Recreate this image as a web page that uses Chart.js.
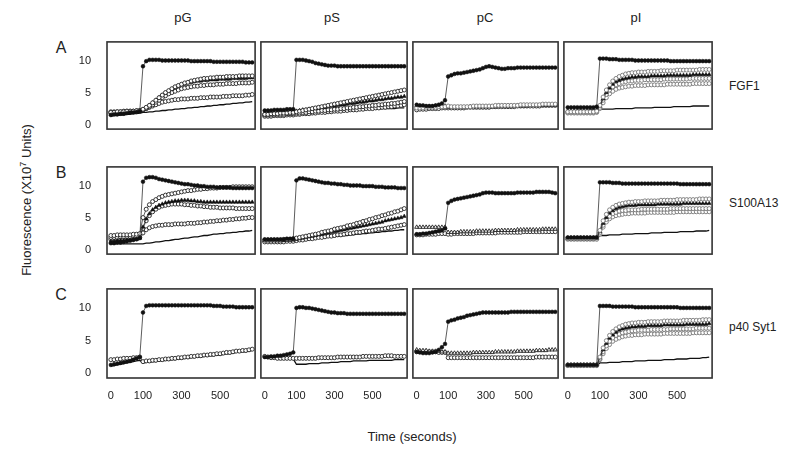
<!DOCTYPE html>
<html>
<head>
<meta charset="utf-8">
<script src="https://cdn.jsdelivr.net/npm/chart.js@4.4.0/dist/chart.umd.min.js"></script>
<style>
  body { margin: 0; background: #fff; }
  #fig { position: relative; width: 800px; height: 451px; overflow: hidden;
         font-family: 'Liberation Sans', Arial, sans-serif; color: #222; }
  #fig canvas { position: absolute; }
  .lbl { position: absolute; white-space: nowrap; transform: translate(-50%, -50%); }
  .side { position: absolute; white-space: nowrap; transform: translate(0, -50%); font-size: 12px; }
</style>
</head>
<body>
<div id="fig">
  <div class="lbl" style="left:183px;top:17px;font-size:13px">pG</div>
  <div class="lbl" style="left:332px;top:17px;font-size:13px">pS</div>
  <div class="lbl" style="left:485px;top:17px;font-size:13px">pC</div>
  <div class="lbl" style="left:636px;top:17px;font-size:13px">pI</div>

  <div class="lbl" style="left:61px;top:48px;font-size:16px">A</div>
  <div class="lbl" style="left:61px;top:173px;font-size:16px">B</div>
  <div class="lbl" style="left:61px;top:295px;font-size:16px">C</div>

  <div class="side" style="left:729px;top:86px">FGF1</div>
  <div class="side" style="left:729px;top:203px">S100A13</div>
  <div class="side" style="left:729px;top:327px">p40 Syt1</div>

  <div class="lbl" style="left:26px;top:200px;font-size:13px;transform:translate(-50%,-50%) rotate(-90deg)">Fluorescence (X10<sup style="font-size:9px">7</sup> Units)</div>
  <div class="lbl" style="left:412px;top:436px;font-size:13px">Time (seconds)</div>
</div>
<script>
// reading number of each measurement, and where the time labels sit on it
const readIdx = [0,1,2,3,4,5,6,7,8,9,10,11,12,13,14,15,16,17,18,19,20,21,22,
                 23,24,25,26,27,28,29,30,31,32,33,34,35,36,37,38,39,40,41,42,43,44];
const xTickAt = [0, 10, 22, 34];
const xTickText = ['0', '100', '300', '500'];
const yTickAt = [0, 5, 10];
const yTickText = ['0', '5', '10'];

// ---- row A (FGF1) ----
const aG_fill = [1.5,1.6,1.6,1.7,1.7,1.8,1.9,1.9,2.0,2.1,
  9.1,9.9,10.1,10.1,10.1,10.1,10.0,10.0,10.0,10.0,
  10.0,10.0,10.0,10.0,10.0,9.9,9.9,9.9,9.9,9.9,
  9.9,9.9,9.8,9.8,9.8,9.8,9.8,9.8,9.8,9.8,
  9.8,9.8,9.7,9.7,9.7];
const aG_o1 = [1.9,1.9,2.0,2.0,2.0,2.1,2.1,2.1,2.2,2.2,
  2.4,2.7,3.0,3.4,3.8,4.2,4.6,5.0,5.3,5.6,
  5.9,6.1,6.3,6.5,6.6,6.8,6.9,7.0,7.1,7.2,
  7.2,7.3,7.3,7.4,7.4,7.4,7.5,7.5,7.5,7.5,
  7.6,7.6,7.6,7.6,7.6];
const aG_t2 = [1.6,1.6,1.7,1.7,1.8,1.8,1.9,1.9,2.0,2.0,
  2.3,2.6,3.0,3.4,3.8,4.2,4.6,4.9,5.2,5.5,
  5.8,6.0,6.2,6.3,6.5,6.6,6.7,6.8,6.8,6.9,
  6.9,7.0,7.0,7.0,7.1,7.1,7.1,7.1,7.2,7.2,
  7.2,7.2,7.2,7.3,7.3];
const aG_o3 = [1.8,1.8,1.9,1.9,1.9,2.0,2.0,2.0,2.1,2.1,
  2.3,2.5,2.8,3.1,3.5,3.8,4.2,4.5,4.8,5.0,
  5.2,5.4,5.6,5.7,5.8,5.9,6.0,6.0,6.1,6.1,
  6.2,6.2,6.2,6.3,6.3,6.3,6.4,6.4,6.4,6.4,
  6.5,6.5,6.5,6.5,6.6];
const aG_o4 = [2.0,2.0,2.0,2.0,2.1,2.1,2.1,2.1,2.1,2.2,
  2.3,2.5,2.7,2.9,3.1,3.3,3.5,3.6,3.7,3.8,
  3.9,3.9,4.0,4.0,4.0,4.1,4.1,4.1,4.2,4.2,
  4.2,4.3,4.3,4.3,4.3,4.4,4.4,4.4,4.5,4.5,
  4.5,4.5,4.6,4.6,4.7];
const aG_line = [1.3,1.4,1.4,1.5,1.5,1.6,1.6,1.7,1.7,1.8,
  1.9,1.9,2.0,2.0,2.1,2.1,2.2,2.2,2.3,2.3,
  2.4,2.4,2.5,2.5,2.6,2.6,2.7,2.7,2.8,2.8,
  2.9,2.9,3.0,3.0,3.1,3.1,3.2,3.2,3.3,3.3,
  3.4,3.4,3.5,3.5,3.6];

const aS_fill = [2.2,2.2,2.2,2.3,2.3,2.3,2.3,2.4,2.4,2.4,
  10.1,10.1,10.1,10.0,9.9,9.8,9.6,9.5,9.4,9.3,
  9.2,9.2,9.2,9.1,9.1,9.1,9.1,9.1,9.1,9.1,
  9.1,9.1,9.1,9.1,9.1,9.1,9.1,9.1,9.1,9.1,
  9.1,9.1,9.1,9.1,9.1];
const aS_o1 = [1.6,1.6,1.7,1.7,1.7,1.8,1.8,1.8,1.9,1.9,
  2.0,2.1,2.2,2.3,2.4,2.5,2.6,2.7,2.8,2.9,
  3.0,3.1,3.2,3.3,3.4,3.5,3.6,3.7,3.8,3.9,
  4.0,4.1,4.2,4.3,4.4,4.5,4.6,4.7,4.8,4.9,
  5.0,5.1,5.2,5.3,5.4];
const aS_f2 = [1.8,1.8,1.8,1.9,1.9,1.9,2.0,2.0,2.0,2.0,
  2.1,2.2,2.3,2.3,2.4,2.5,2.5,2.6,2.7,2.7,
  2.8,2.9,2.9,3.0,3.1,3.1,3.2,3.3,3.3,3.4,
  3.5,3.5,3.6,3.7,3.7,3.8,3.9,3.9,4.0,4.1,
  4.1,4.2,4.3,4.3,4.4];
const aS_o3 = [1.5,1.5,1.5,1.6,1.6,1.6,1.6,1.7,1.7,1.7,
  1.8,1.8,1.9,1.9,2.0,2.0,2.1,2.1,2.2,2.2,
  2.3,2.3,2.4,2.4,2.5,2.5,2.6,2.6,2.7,2.7,
  2.8,2.8,2.9,2.9,3.0,3.0,3.1,3.1,3.2,3.2,
  3.3,3.3,3.4,3.5,3.6];
const aS_o4 = [1.3,1.3,1.3,1.4,1.4,1.4,1.4,1.5,1.5,1.5,
  1.6,1.6,1.7,1.7,1.7,1.8,1.8,1.9,1.9,1.9,
  2.0,2.0,2.1,2.1,2.1,2.2,2.2,2.3,2.3,2.3,
  2.4,2.4,2.5,2.5,2.5,2.6,2.6,2.7,2.7,2.8,
  2.8,2.9,2.9,3.0,3.1];
const aS_line = [1.7,1.7,1.7,1.8,1.8,1.8,1.8,1.8,1.9,1.9,
  1.9,1.9,2.0,2.0,2.0,2.0,2.0,2.1,2.1,2.1,
  2.1,2.1,2.2,2.2,2.2,2.2,2.2,2.3,2.3,2.3,
  2.3,2.3,2.4,2.4,2.4,2.4,2.4,2.5,2.5,2.5,
  2.5,2.5,2.6,2.6,2.6];

const aC_fill = [3.1,3.0,3.0,2.9,2.9,2.9,3.0,3.1,3.3,3.8,
  7.5,7.7,7.9,8.0,8.0,8.1,8.2,8.3,8.4,8.5,
  8.6,8.8,9.0,9.1,9.0,8.9,8.8,8.7,8.7,8.8,
  8.8,8.8,8.9,8.9,8.9,8.9,8.9,8.9,8.9,8.9,
  8.9,8.9,8.9,8.9,8.9];
const aC_o1 = [2.6,2.6,2.6,2.7,2.7,2.7,2.7,2.8,2.8,2.8,
  2.9,2.8,2.8,2.8,2.8,2.8,2.8,2.8,2.9,2.9,
  2.9,2.9,2.9,2.9,2.9,3.0,3.0,3.0,3.0,3.0,
  3.0,3.0,3.0,3.1,3.1,3.1,3.1,3.1,3.1,3.1,
  3.2,3.2,3.2,3.2,3.2];
const aC_t2 = [2.9,2.9,2.8,2.8,2.8,2.8,2.9,2.9,2.9,2.9,
  2.7,2.7,2.7,2.7,2.7,2.7,2.7,2.8,2.8,2.8,
  2.8,2.8,2.8,2.8,2.8,2.8,2.9,2.9,2.9,2.9,
  2.9,2.9,2.9,2.9,2.9,2.9,3.0,3.0,3.0,3.0,
  3.0,3.0,3.0,3.0,3.0];
const aC_o3 = [2.3,2.4,2.4,2.4,2.5,2.5,2.5,2.5,2.6,2.6,
  2.6,2.6,2.6,2.6,2.6,2.6,2.7,2.7,2.7,2.7,
  2.7,2.7,2.7,2.7,2.8,2.8,2.8,2.8,2.8,2.8,
  2.8,2.8,2.9,2.9,2.9,2.9,2.9,2.9,2.9,2.9,
  3.0,3.0,3.0,3.0,3.0];

const aI_fill = [2.7,2.7,2.7,2.7,2.7,2.7,2.7,2.7,2.7,2.8,
  10.3,10.3,10.3,10.2,10.2,10.2,10.1,10.1,10.1,10.1,
  10.1,10.0,10.0,10.0,10.0,10.0,10.0,10.0,10.0,10.0,
  10.0,10.0,9.9,9.9,9.9,9.9,9.9,9.9,9.9,9.9,
  9.9,9.9,9.9,9.9,9.9];
const aI_o1 = [2.0,2.0,2.0,2.0,2.0,2.0,2.0,2.0,2.0,2.1,
  3.0,4.3,5.4,6.2,6.8,7.2,7.5,7.7,7.9,8.0,
  8.1,8.1,8.2,8.2,8.2,8.3,8.3,8.3,8.3,8.4,
  8.4,8.4,8.4,8.4,8.5,8.5,8.5,8.5,8.5,8.5,
  8.5,8.6,8.6,8.6,8.6];
const aI_f2 = [2.2,2.2,2.2,2.2,2.2,2.2,2.2,2.2,2.2,2.3,
  2.9,4.0,5.0,5.7,6.3,6.7,6.9,7.1,7.2,7.3,
  7.4,7.4,7.5,7.5,7.5,7.5,7.6,7.6,7.6,7.6,
  7.6,7.7,7.7,7.7,7.7,7.7,7.7,7.7,7.7,7.8,
  7.8,7.8,7.8,7.8,7.8];
const aI_o3 = [1.9,1.9,1.9,1.9,1.9,1.9,1.9,1.9,1.9,2.0,
  2.7,3.8,4.7,5.4,5.9,6.2,6.4,6.6,6.7,6.8,
  6.8,6.9,6.9,6.9,7.0,7.0,7.0,7.0,7.0,7.0,
  7.1,7.1,7.1,7.1,7.1,7.1,7.1,7.1,7.2,7.2,
  7.2,7.2,7.2,7.2,7.2];
const aI_o4 = [1.8,1.8,1.8,1.8,1.8,1.8,1.8,1.8,1.8,1.9,
  2.5,3.4,4.2,4.8,5.2,5.5,5.7,5.8,5.9,6.0,
  6.0,6.1,6.1,6.1,6.1,6.2,6.2,6.2,6.2,6.2,
  6.2,6.3,6.3,6.3,6.3,6.3,6.3,6.3,6.3,6.4,
  6.4,6.4,6.4,6.4,6.4];
const aI_line = [2.1,2.1,2.1,2.2,2.2,2.2,2.2,2.3,2.3,2.3,
  2.4,2.4,2.4,2.4,2.4,2.5,2.5,2.5,2.5,2.5,
  2.5,2.6,2.6,2.6,2.6,2.6,2.6,2.7,2.7,2.7,
  2.7,2.7,2.7,2.8,2.8,2.8,2.8,2.8,2.8,2.9,
  2.9,2.9,2.9,2.9,2.9];

// ---- row B (S100A13) ----
const bG_fill = [1.0,1.0,1.1,1.1,1.2,1.3,1.4,1.5,1.6,1.8,
  10.6,11.2,11.3,11.3,11.2,11.0,10.9,10.8,10.7,10.6,
  10.5,10.4,10.3,10.2,10.2,10.1,10.0,10.0,9.9,9.9,
  9.8,9.8,9.8,9.7,9.7,9.7,9.7,9.7,9.6,9.6,
  9.6,9.6,9.6,9.6,9.6];
const bG_o1 = [2.2,2.2,2.3,2.3,2.3,2.3,2.3,2.4,2.4,2.5,
  5.0,6.3,7.0,7.5,7.8,8.1,8.3,8.5,8.6,8.7,
  8.8,8.9,9.0,9.1,9.2,9.2,9.3,9.4,9.4,9.5,
  9.5,9.6,9.6,9.6,9.7,9.7,9.7,9.7,9.8,9.8,
  9.8,9.8,9.8,9.8,9.8];
const bG_t2 = [1.3,1.3,1.4,1.4,1.4,1.5,1.5,1.6,1.6,1.8,
  3.5,4.8,5.6,6.2,6.6,6.9,7.1,7.3,7.4,7.5,
  7.6,7.6,7.7,7.7,7.7,7.6,7.6,7.5,7.5,7.4,
  7.4,7.4,7.4,7.4,7.4,7.4,7.4,7.4,7.4,7.4,
  7.4,7.4,7.4,7.4,7.4];
const bG_o3 = [1.9,1.9,1.9,2.0,2.0,2.0,2.0,2.1,2.1,2.2,
  3.3,4.5,5.3,5.9,6.3,6.6,6.8,6.9,7.0,7.1,
  7.1,7.1,7.1,7.0,7.0,6.9,6.9,6.8,6.8,6.7,
  6.7,6.6,6.6,6.6,6.5,6.5,6.5,6.5,6.5,6.4,
  6.4,6.4,6.4,6.4,6.4];
const bG_o4 = [1.6,1.6,1.6,1.7,1.7,1.7,1.7,1.8,1.8,1.9,
  2.6,3.1,3.4,3.6,3.7,3.8,3.8,3.9,3.9,3.9,
  4.0,4.0,4.0,4.0,4.1,4.1,4.1,4.2,4.2,4.3,
  4.3,4.4,4.4,4.5,4.5,4.6,4.6,4.7,4.7,4.8,
  4.8,4.9,4.9,5.0,5.0];
const bG_line = [0.9,0.9,0.9,0.9,0.9,0.9,0.9,0.9,0.9,0.9,
  0.9,1.0,1.0,1.1,1.2,1.2,1.3,1.4,1.4,1.5,
  1.6,1.6,1.7,1.8,1.8,1.9,2.0,2.0,2.1,2.2,
  2.2,2.3,2.4,2.4,2.5,2.5,2.6,2.6,2.7,2.7,
  2.8,2.8,2.9,2.9,3.0];

const bS_fill = [1.6,1.6,1.6,1.6,1.6,1.6,1.6,1.7,1.7,1.7,
  10.8,11.1,11.1,11.0,10.9,10.8,10.7,10.6,10.5,10.4,
  10.4,10.3,10.3,10.2,10.2,10.1,10.1,10.0,10.0,10.0,
  10.0,9.9,9.9,9.9,9.9,9.8,9.8,9.8,9.7,9.7,
  9.7,9.7,9.6,9.6,9.6];
const bS_o1 = [1.5,1.5,1.5,1.5,1.5,1.5,1.6,1.6,1.6,1.7,
  1.8,1.9,2.0,2.1,2.2,2.3,2.4,2.5,2.7,2.8,
  2.9,3.0,3.2,3.3,3.4,3.5,3.7,3.8,3.9,4.1,
  4.2,4.4,4.5,4.7,4.8,5.0,5.1,5.3,5.4,5.6,
  5.7,5.9,6.0,6.2,6.4];
const bS_f2 = [1.4,1.4,1.4,1.4,1.4,1.4,1.4,1.5,1.5,1.5,
  1.6,1.7,1.8,1.9,2.0,2.1,2.2,2.3,2.4,2.5,
  2.6,2.7,2.8,2.9,3.0,3.1,3.2,3.3,3.4,3.5,
  3.6,3.7,3.8,3.9,4.0,4.1,4.2,4.3,4.5,4.6,
  4.7,4.8,4.9,5.0,5.2];
const bS_o3 = [1.2,1.2,1.2,1.2,1.2,1.2,1.2,1.3,1.3,1.3,
  1.4,1.5,1.5,1.6,1.7,1.7,1.8,1.9,1.9,2.0,
  2.1,2.1,2.2,2.3,2.3,2.4,2.5,2.5,2.6,2.7,
  2.7,2.8,2.9,2.9,3.0,3.1,3.2,3.2,3.3,3.4,
  3.5,3.6,3.7,3.8,3.9];
const bS_line = [1.3,1.3,1.3,1.3,1.3,1.3,1.3,1.3,1.3,1.4,
  1.4,1.5,1.5,1.6,1.6,1.7,1.7,1.8,1.8,1.9,
  1.9,2.0,2.0,2.1,2.1,2.2,2.2,2.3,2.3,2.4,
  2.4,2.5,2.5,2.6,2.6,2.7,2.7,2.8,2.8,2.9,
  2.9,3.0,3.0,3.1,3.1];

const bC_fill = [2.4,2.4,2.5,2.5,2.6,2.7,2.8,2.9,3.0,3.3,
  7.3,7.6,7.8,7.9,8.0,8.1,8.2,8.3,8.4,8.5,
  8.6,8.8,8.9,8.9,8.9,8.8,8.8,8.8,8.8,8.8,
  8.8,8.8,8.9,8.9,8.9,8.9,8.9,8.9,9.0,9.0,
  9.0,9.0,9.0,8.9,8.8];
const bC_t1 = [3.5,3.5,3.5,3.5,3.5,3.5,3.5,3.5,3.5,3.5,
  2.7,2.7,2.7,2.7,2.8,2.8,2.8,2.8,2.8,2.9,
  2.9,2.9,2.9,2.9,2.9,3.0,3.0,3.0,3.0,3.0,
  3.0,3.0,3.1,3.1,3.1,3.1,3.1,3.1,3.1,3.1,
  3.2,3.2,3.2,3.2,3.2];
const bC_o2 = [2.3,2.3,2.3,2.4,2.4,2.4,2.4,2.5,2.5,2.5,
  2.4,2.4,2.5,2.5,2.5,2.5,2.5,2.5,2.5,2.6,
  2.6,2.6,2.6,2.6,2.6,2.6,2.7,2.7,2.7,2.7,
  2.7,2.7,2.7,2.7,2.8,2.8,2.8,2.8,2.8,2.8,
  2.8,2.8,2.8,2.8,2.8];

const bI_fill = [1.9,1.9,1.9,1.9,1.9,1.9,1.9,1.9,1.9,1.9,
  10.5,10.5,10.5,10.5,10.4,10.4,10.4,10.3,10.3,10.3,
  10.3,10.3,10.3,10.3,10.3,10.3,10.3,10.3,10.3,10.3,
  10.3,10.3,10.3,10.3,10.3,10.2,10.2,10.2,10.2,10.2,
  10.2,10.2,10.2,10.2,10.2];
const bI_o1 = [1.8,1.8,1.8,1.8,1.8,1.8,1.8,1.8,1.8,1.9,
  3.0,4.5,5.5,6.2,6.6,6.9,7.1,7.2,7.3,7.4,
  7.4,7.5,7.5,7.5,7.6,7.6,7.6,7.6,7.6,7.7,
  7.7,7.7,7.7,7.7,7.8,7.8,7.8,7.8,7.8,7.8,
  7.8,7.9,7.9,7.9,7.9];
const bI_f2 = [1.7,1.7,1.7,1.7,1.7,1.7,1.7,1.7,1.7,1.8,
  2.8,4.1,5.0,5.7,6.1,6.4,6.6,6.7,6.8,6.9,
  6.9,6.9,7.0,7.0,7.0,7.0,7.0,7.0,7.1,7.1,
  7.1,7.1,7.1,7.1,7.1,7.1,7.2,7.2,7.2,7.2,
  7.2,7.2,7.2,7.2,7.2];
const bI_o3 = [1.8,1.8,1.8,1.8,1.8,1.8,1.8,1.8,1.8,1.8,
  2.6,3.8,4.7,5.2,5.6,5.8,6.0,6.1,6.1,6.2,
  6.2,6.2,6.2,6.3,6.3,6.3,6.3,6.3,6.3,6.3,
  6.3,6.3,6.4,6.4,6.4,6.4,6.4,6.4,6.4,6.4,
  6.4,6.4,6.4,6.4,6.4];
const bI_o4 = [1.6,1.6,1.6,1.6,1.6,1.6,1.6,1.6,1.6,1.6,
  2.4,3.5,4.3,4.8,5.1,5.3,5.4,5.5,5.6,5.6,
  5.7,5.7,5.7,5.7,5.7,5.8,5.8,5.8,5.8,5.8,
  5.8,5.8,5.8,5.8,5.9,5.9,5.9,5.9,5.9,5.9,
  5.9,5.9,5.9,5.9,5.9];
const bI_line = [1.8,1.8,1.8,1.8,1.8,1.8,1.8,1.8,1.8,1.8,
  2.2,2.2,2.2,2.3,2.3,2.3,2.3,2.4,2.4,2.4,
  2.4,2.5,2.5,2.5,2.5,2.5,2.6,2.6,2.6,2.6,
  2.7,2.7,2.7,2.7,2.7,2.8,2.8,2.8,2.8,2.8,
  2.9,2.9,2.9,2.9,3.0];

// ---- row C (p40 Syt1) ----
const cG_fill = [1.3,1.4,1.5,1.6,1.7,1.8,1.9,2.1,2.3,2.5,
  9.3,10.3,10.4,10.4,10.4,10.4,10.4,10.4,10.4,10.4,
  10.4,10.4,10.4,10.4,10.4,10.4,10.4,10.4,10.4,10.4,
  10.4,10.4,10.3,10.3,10.3,10.2,10.2,10.2,10.2,10.1,
  10.1,10.1,10.1,10.1,10.1];
const cG_o1 = [2.1,2.1,2.2,2.2,2.3,2.3,2.3,2.4,2.4,2.5,
  1.8,1.9,1.9,2.0,2.0,2.1,2.1,2.2,2.2,2.3,
  2.3,2.4,2.4,2.5,2.5,2.6,2.6,2.7,2.7,2.8,
  2.8,2.9,2.9,3.0,3.0,3.1,3.2,3.2,3.3,3.4,
  3.4,3.5,3.5,3.6,3.7];
const cG_line = [1.1,1.2,1.3,1.4,1.5,1.6,1.7,1.8,1.9,2.0,
  1.6,1.7,1.7,1.8,1.8,1.9,1.9,2.0,2.0,2.1,
  2.1,2.2,2.2,2.3,2.3,2.4,2.4,2.5,2.5,2.6,
  2.6,2.7,2.7,2.8,2.8,2.9,3.0,3.0,3.1,3.2,
  3.2,3.3,3.3,3.4,3.5];

const cS_fill = [2.5,2.5,2.6,2.6,2.7,2.7,2.8,2.9,3.0,3.2,
  10.0,10.1,10.1,10.0,10.0,9.9,9.8,9.7,9.6,9.5,
  9.4,9.3,9.3,9.2,9.2,9.2,9.1,9.1,9.1,9.1,
  9.1,9.1,9.1,9.1,9.1,9.1,9.1,9.1,9.1,9.1,
  9.1,9.1,9.1,9.1,9.1];
const cS_o1 = [2.6,2.5,2.4,2.4,2.3,2.3,2.3,2.3,2.3,2.3,
  2.3,2.3,2.3,2.3,2.3,2.3,2.3,2.4,2.4,2.4,
  2.4,2.4,2.4,2.5,2.5,2.5,2.5,2.5,2.5,2.5,
  2.5,2.6,2.6,2.6,2.6,2.6,2.6,2.6,2.7,2.7,
  2.7,2.6,2.6,2.6,2.6];
const cS_line = [2.3,2.3,2.3,2.3,2.3,2.2,2.2,2.2,2.2,2.2,
  1.4,1.4,1.4,1.4,1.5,1.5,1.5,1.5,1.6,1.6,
  1.6,1.7,1.7,1.7,1.8,1.8,1.8,1.8,1.9,1.9,
  1.9,1.9,1.9,2.0,2.0,2.0,2.0,2.0,2.0,2.0,
  2.0,2.1,2.1,2.1,2.1];

const cC_fill = [3.3,3.2,3.1,3.1,3.1,3.2,3.3,3.6,4.0,4.5,
  7.9,8.1,8.2,8.4,8.5,8.6,8.8,8.9,9.0,9.1,
  9.2,9.3,9.3,9.3,9.3,9.3,9.3,9.3,9.3,9.3,
  9.4,9.4,9.4,9.4,9.4,9.4,9.4,9.4,9.4,9.4,
  9.4,9.4,9.4,9.4,9.4];
const cC_t1 = [3.6,3.5,3.5,3.5,3.4,3.4,3.4,3.4,3.3,3.3,
  3.1,3.1,3.1,3.1,3.1,3.1,3.1,3.1,3.2,3.2,
  3.2,3.2,3.2,3.2,3.2,3.3,3.3,3.3,3.3,3.3,
  3.3,3.3,3.4,3.4,3.4,3.4,3.4,3.4,3.5,3.5,
  3.5,3.5,3.6,3.6,3.6];
const cC_o2 = [3.3,3.3,3.3,3.3,3.3,3.3,3.3,3.2,3.2,3.2,
  2.4,2.4,2.4,2.4,2.4,2.4,2.4,2.4,2.4,2.4,
  2.4,2.4,2.4,2.4,2.4,2.4,2.4,2.4,2.4,2.4,
  2.4,2.4,2.4,2.4,2.4,2.4,2.4,2.4,2.5,2.5,
  2.5,2.5,2.5,2.5,2.5];

const cI_fill = [1.3,1.3,1.3,1.3,1.3,1.3,1.3,1.3,1.3,1.3,
  10.3,10.3,10.3,10.3,10.2,10.2,10.2,10.2,10.2,10.2,
  10.2,10.1,10.1,10.1,10.1,10.1,10.1,10.1,10.1,10.1,
  10.1,10.1,10.1,10.1,10.1,10.0,10.0,10.0,10.0,10.0,
  10.0,10.0,10.0,10.0,10.0];
const cI_o1 = [1.3,1.3,1.3,1.3,1.3,1.3,1.3,1.3,1.3,1.3,
  2.5,3.9,5.0,5.8,6.4,6.8,7.1,7.3,7.5,7.6,
  7.7,7.7,7.8,7.8,7.8,7.9,7.9,7.9,7.9,7.9,
  8.0,8.0,8.0,8.0,8.0,8.0,8.1,8.1,8.1,8.1,
  8.1,8.1,8.2,8.2,8.2];
const cI_f2 = [1.3,1.3,1.3,1.3,1.3,1.3,1.3,1.3,1.3,1.3,
  2.4,3.6,4.6,5.4,5.9,6.3,6.6,6.8,6.9,7.0,
  7.1,7.1,7.2,7.2,7.2,7.3,7.3,7.3,7.3,7.3,
  7.4,7.4,7.4,7.4,7.4,7.4,7.4,7.5,7.5,7.5,
  7.5,7.5,7.5,7.5,7.6];
const cI_o3 = [1.2,1.2,1.2,1.2,1.2,1.2,1.2,1.2,1.2,1.2,
  2.2,3.3,4.2,4.9,5.4,5.8,6.0,6.2,6.3,6.4,
  6.5,6.5,6.6,6.6,6.6,6.6,6.7,6.7,6.7,6.7,
  6.7,6.7,6.8,6.8,6.8,6.8,6.8,6.8,6.8,6.8,
  6.9,6.9,6.9,6.9,6.9];
const cI_o4 = [1.2,1.2,1.2,1.2,1.2,1.2,1.2,1.2,1.2,1.2,
  2.1,3.0,3.8,4.4,4.9,5.2,5.4,5.6,5.7,5.8,
  5.8,5.9,5.9,5.9,6.0,6.0,6.0,6.0,6.0,6.0,
  6.1,6.1,6.1,6.1,6.1,6.1,6.1,6.1,6.1,6.2,
  6.2,6.2,6.2,6.2,6.2];
const cI_line = [1.2,1.2,1.2,1.2,1.2,1.2,1.2,1.2,1.2,1.2,
  1.6,1.6,1.6,1.7,1.7,1.7,1.7,1.8,1.8,1.8,
  1.8,1.9,1.9,1.9,1.9,2.0,2.0,2.0,2.0,2.0,
  2.1,2.1,2.1,2.1,2.2,2.2,2.2,2.2,2.3,2.3,
  2.3,2.3,2.4,2.4,2.5];

// ---- layout + styling ----
const colX = [107, 258, 410, 561, 715];
const rowY = [[39, 132], [164, 257], [286, 378]];
const xMin = -1.2, xMax = 44.9;
const yMin = -0.7, yMax = 12.9;

const FONT = "'Liberation Sans', Arial, sans-serif";
Chart.defaults.font.family = FONT;

const markStyle = {
  fill:  { pointStyle: 'circle', pointRadius: 1.9, pointBackgroundColor: '#111', pointBorderColor: '#111', pointBorderWidth: 0.5 },
  open:  { pointStyle: 'circle', pointRadius: 2.0, pointBackgroundColor: '#fff', pointBorderColor: '#222', pointBorderWidth: 0.9 },
  gray:  { pointStyle: 'circle', pointRadius: 2.0, pointBackgroundColor: '#fff', pointBorderColor: '#777', pointBorderWidth: 0.9 },
  tri:   { pointStyle: 'triangle', pointRadius: 2.3, pointBackgroundColor: '#111', pointBorderColor: '#111', pointBorderWidth: 0.5 },
  otri:  { pointStyle: 'triangle', pointRadius: 2.3, pointBackgroundColor: '#fff', pointBorderColor: '#222', pointBorderWidth: 0.9 },
  line:  { pointRadius: 0, borderWidth: 1.3, borderColor: '#111' }
};

const panels = [
  { r: 0, c: 0, sets: [[aG_fill,'fill'],[aG_o1,'open'],[aG_t2,'tri'],[aG_o3,'open'],[aG_o4,'open'],[aG_line,'line']] },
  { r: 0, c: 1, sets: [[aS_fill,'fill'],[aS_o1,'open'],[aS_f2,'tri'],[aS_o3,'open'],[aS_o4,'open'],[aS_line,'line']] },
  { r: 0, c: 2, sets: [[aC_fill,'fill'],[aC_o1,'gray'],[aC_t2,'otri'],[aC_o3,'open']] },
  { r: 0, c: 3, sets: [[aI_fill,'fill'],[aI_o1,'gray'],[aI_f2,'tri'],[aI_o3,'gray'],[aI_o4,'gray'],[aI_line,'line']] },
  { r: 1, c: 0, sets: [[bG_fill,'fill'],[bG_o1,'open'],[bG_t2,'tri'],[bG_o3,'open'],[bG_o4,'open'],[bG_line,'line']] },
  { r: 1, c: 1, sets: [[bS_fill,'fill'],[bS_o1,'open'],[bS_f2,'tri'],[bS_o3,'open'],[bS_line,'line']] },
  { r: 1, c: 2, sets: [[bC_fill,'fill'],[bC_t1,'otri'],[bC_o2,'open']] },
  { r: 1, c: 3, sets: [[bI_fill,'fill'],[bI_o1,'gray'],[bI_f2,'tri'],[bI_o3,'gray'],[bI_o4,'gray'],[bI_line,'line']] },
  { r: 2, c: 0, sets: [[cG_fill,'fill'],[cG_o1,'open'],[cG_line,'line']] },
  { r: 2, c: 1, sets: [[cS_fill,'fill'],[cS_o1,'open'],[cS_line,'line']] },
  { r: 2, c: 2, sets: [[cC_fill,'fill'],[cC_t1,'otri'],[cC_o2,'open']] },
  { r: 2, c: 3, sets: [[cI_fill,'fill'],[cI_o1,'gray'],[cI_f2,'tri'],[cI_o3,'gray'],[cI_o4,'gray'],[cI_line,'line']] }
];

// box round each plot area
const framePlugin = {
  id: 'frame',
  afterDraw(chart) {
    const { ctx, chartArea: a } = chart;
    ctx.save();
    ctx.strokeStyle = '#333';
    ctx.lineWidth = 1.6;
    ctx.strokeRect(a.left, a.top, a.right - a.left, a.bottom - a.top);
    ctx.restore();
  }
};

// fixed axis size, and no extra room kept for the end labels
function fixSize(s, w, h) {
  if (w !== null) s.width = w;
  if (h !== null) s.height = h;
  s.paddingTop = 0; s.paddingBottom = 0;
  s.paddingLeft = 0; s.paddingRight = 0;
}

const fig = document.getElementById('fig');

panels.forEach(p => {
  const L = colX[p.c], R = colX[p.c + 1];
  const T = rowY[p.r][0], B = rowY[p.r][1];
  const showY = p.c === 0, showX = p.r === 2;
  const yW = showY ? 45 : 0, xH = showX ? 30 : 0, pad = 2;

  const cv = document.createElement('canvas');
  cv.width = R - L + 2 * pad + yW;
  cv.height = B - T + 2 * pad + xH;
  cv.style.left = (L - pad - yW) + 'px';
  cv.style.top = (T - pad) + 'px';
  fig.appendChild(cv);

  const datasets = p.sets.map(([data, kind]) => Object.assign({
    data: data,
    borderColor: '#333',
    borderWidth: 0.8,
    fill: false,
    tension: 0
  }, markStyle[kind]));

  new Chart(cv, {
    type: 'line',
    data: { labels: readIdx, datasets: datasets },
    plugins: [framePlugin],
    options: {
      responsive: false,
      animation: false,
      events: [],
      layout: { padding: pad },
      plugins: { legend: { display: false }, tooltip: { enabled: false } },
      scales: {
        x: {
          type: 'linear', min: xMin, max: xMax, display: showX,
          grid: { display: false }, border: { display: false },
          afterBuildTicks: s => { s.ticks = xTickAt.map(v => ({ value: v })); },
          afterFit: s => fixSize(s, null, xH),
          ticks: { autoSkip: false, maxRotation: 0, padding: 3, color: '#222',
                   font: { size: 11 }, callback: (v, i) => xTickText[i] }
        },
        y: {
          min: yMin, max: yMax, display: showY,
          grid: { display: false }, border: { display: false },
          afterBuildTicks: s => { s.ticks = yTickAt.map(v => ({ value: v })); },
          afterFit: s => fixSize(s, yW, null),
          ticks: { padding: 8, color: '#222', font: { size: 11 },
                   callback: (v, i) => yTickText[i] }
        }
      }
    }
  });
});
</script>
</body>
</html>
